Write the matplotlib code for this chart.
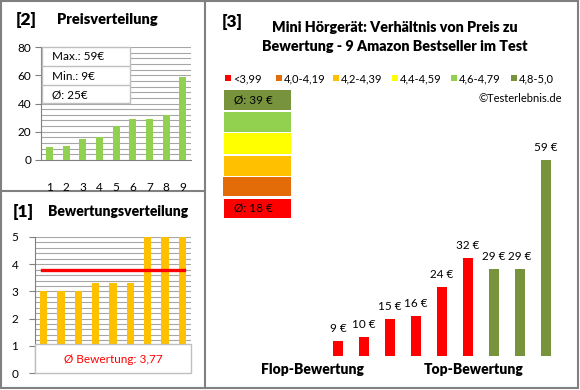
import matplotlib
matplotlib.use("Agg")
import matplotlib.pyplot as plt
from matplotlib.patches import Rectangle
from matplotlib.ticker import MultipleLocator

plt.rcParams['font.family'] = ['Lato', 'DejaVu Sans']

# ---------------- data ----------------
positions = [1, 2, 3, 4, 5, 6, 7, 8, 9]
prices = [9, 10, 15, 16, 24, 29, 29, 32, 59]
ratings = [3.0, 3.0, 3.0, 3.3, 3.3, 3.3, 5.0, 5.0, 5.0]
avg_rating = 3.77
price_max, price_min, price_avg = 59, 9, 25
prices_by_rating = [9, 10, 15, 16, 24, 32, 29, 29, 59]
bar3_colors = ['#FF0000'] * 6 + ['#77933C'] * 3
legend_labels = ['<3,99', '4,0-4,19', '4,2-4,39', '4,4-4,59', '4,6-4,79', '4,8-5,0']
legend_colors = ['#FF0000', '#E36C09', '#FFC000', '#FFFF00', '#92D050', '#77933C']
avg_top, avg_flop = 39, 18

W, H = 580, 390
fig = plt.figure(figsize=(W / 100, H / 100), dpi=100)
fig.patch.set_facecolor('white')

def fx(x):
    return x / W

def fy(y):
    return 1 - y / H

def add_ax(x0, y0, x1, y1):
    return fig.add_axes([fx(x0), fy(y1), fx(x1) - fx(x0), fy(y0) - fy(y1)])

GRID = '#A6A6A6'
BORDER = '#808080'
BW = 'heavy'

# ---------- borders ----------
bg = fig.add_axes([0, 0, 1, 1], zorder=0)
bg.set_xlim(0, W); bg.set_ylim(H, 0); bg.axis('off')
bg.add_patch(Rectangle((1, 1), 577, 387, fill=False, edgecolor=BORDER, lw=1.5))
bg.plot([205, 205], [1, 388], color=BORDER, lw=1.5)
bg.plot([1, 205], [191, 191], color=BORDER, lw=1.5)

# overlay for boxes and texts in pixel coordinates
ov = fig.add_axes([0, 0, 1, 1], zorder=2)
ov.set_xlim(0, W); ov.set_ylim(H, 0); ov.axis('off')

# ---------- panel [2] Preisverteilung ----------
ov.text(16, 20, '[2]', fontsize=12.5, fontweight=BW, va='center', ha='left')
ov.text(57, 20, 'Preisverteilung', fontsize=10.5, fontweight=BW, va='center', ha='left')
ax2 = add_ax(41, 47, 191, 160)
ax2.set_zorder(1)
ax2.bar(positions, prices, width=0.42, color='#92D050', zorder=3)
ax2.set_xlim(0.5, 9.5)
ax2.set_ylim(0, 80)
ax2.yaxis.set_major_locator(MultipleLocator(20))
ax2.yaxis.set_minor_locator(MultipleLocator(4))
ax2.set_xticks(positions)
ax2.grid(axis='y', which='both', color=GRID, lw=0.8, zorder=0)
for s in ['top', 'right']:
    ax2.spines[s].set_visible(False)
for s in ['left', 'bottom']:
    ax2.spines[s].set_color(BORDER)
ax2.tick_params(axis='x', length=0, pad=16, labelsize=8.5)
ax2.tick_params(axis='y', which='major', length=4, color=BORDER, labelsize=8.5, pad=3)
ax2.tick_params(axis='y', which='minor', length=0)
ax2.set_axisbelow(True)

ov.add_patch(Rectangle((42, 47), 88, 56, facecolor='white', edgecolor='#BFBFBF', lw=1))
ov.plot([42, 130], [66, 66], color='#BFBFBF', lw=1)
ov.plot([42, 130], [85, 85], color='#BFBFBF', lw=1)
ov.text(52, 57, f'Max.: {price_max}€', fontsize=8.5, va='center', ha='left')
ov.text(52, 76, f'Min.: {price_min}€', fontsize=8.5, va='center', ha='left')
ov.text(52, 95, f'Ø: {price_avg}€', fontsize=8.5, va='center', ha='left')

# ---------- panel [1] Bewertungsverteilung ----------
ov.text(13, 212, '[1]', fontsize=12.5, fontweight=BW, va='center', ha='left')
ov.text(48, 212, 'Bewertungsverteilung', fontsize=10, fontweight=BW, va='center', ha='left')
ax1 = add_ax(35, 237, 191, 373)
ax1.set_zorder(1)
ax1.bar(positions, ratings, width=0.42, color='#FFC000', zorder=3)
ax1.set_xlim(0.5, 9.5)
ax1.set_ylim(0, 5)
ax1.yaxis.set_major_locator(MultipleLocator(1))
ax1.yaxis.set_minor_locator(MultipleLocator(0.2))
ax1.grid(axis='y', which='both', color=GRID, lw=0.8, zorder=0)
ax1.set_axisbelow(True)
ax1.set_xticks([])
for s in ['top', 'right', 'bottom']:
    ax1.spines[s].set_visible(False)
ax1.spines['left'].set_color(BORDER)
ax1.tick_params(axis='y', which='major', length=4, color=BORDER, labelsize=8.5, pad=8)
ax1.tick_params(axis='y', which='minor', length=0)
ax1.axhline(avg_rating, xmin=0.045, xmax=0.955, color='#FF0000', lw=2.4, zorder=4)
ax1.add_patch(Rectangle((0.5, 0), 9, 1.05, facecolor='white', edgecolor='#BFBFBF',
                        lw=1, zorder=5, clip_on=False))
ax1.text(5, 0.48, f'Ø Bewertung: {str(avg_rating).replace(".", ",")}', color='#FF0000',
         fontsize=8.5, ha='center', va='center', zorder=6)

# ---------- panel [3] ----------
ov.text(222, 22, '[3]', fontsize=12.5, fontweight=BW, va='center', ha='left')
ov.text(395, 37, 'Mini Hörgerät: Verhältnis von Preis zu\nBewertung - 9 Amazon Bestseller im Test',
        fontsize=10.3, fontweight=BW, ha='center', va='center', linespacing=1.5)

leg_x = [225, 276, 333, 392, 451, 511]
for lx, lab, col in zip(leg_x, legend_labels, legend_colors):
    ov.add_patch(Rectangle((lx, 75), 6, 6, facecolor=col, edgecolor='none'))
    ov.text(lx + 8, 78.5, lab, fontsize=8, va='center', ha='left')
ov.text(562, 98, '©Testerlebnis.de', fontsize=8, va='center', ha='right')

# colour scale boxes (top = best rating)
rows = [(90, 110), (112, 132), (133, 154), (156, 176), (177, 196), (199, 218)]
for (y0, y1), col in zip(rows, legend_colors[::-1]):
    x0 = 223 if col == '#E36C09' else 224
    ov.add_patch(Rectangle((x0, y0), 291 - x0, y1 - y0, facecolor=col, edgecolor='none'))
ov.text(253, 100, f'Ø: {avg_top} €', fontsize=8.5, va='center', ha='center')
ov.text(253, 208.5, f'Ø: {avg_flop} €', fontsize=8.5, va='center', ha='center')

ax3 = add_ax(325, 140, 559, 356)
ax3.set_zorder(1)
idx = list(range(len(prices_by_rating)))
ax3.bar(idx, prices_by_rating, width=0.385, color=bar3_colors)
ax3.set_xlim(-0.5, len(prices_by_rating) - 0.5)
ax3.set_ylim(4.86, 4.86 + 216 / 3.62)
ax3.axis('off')
for i, v in zip(idx, prices_by_rating):
    ax3.annotate(f'{v} €', (i, v), xytext=(0, 9), textcoords='offset points',
                 ha='center', va='center', fontsize=8.5)

ov.text(312, 370, 'Flop-Bewertung', fontsize=10, fontweight=BW, ha='center', va='center')
ov.text(474, 369, 'Top-Bewertung', fontsize=10, fontweight=BW, ha='center', va='center')

fig.savefig('out.png', dpi=100, facecolor='white')
